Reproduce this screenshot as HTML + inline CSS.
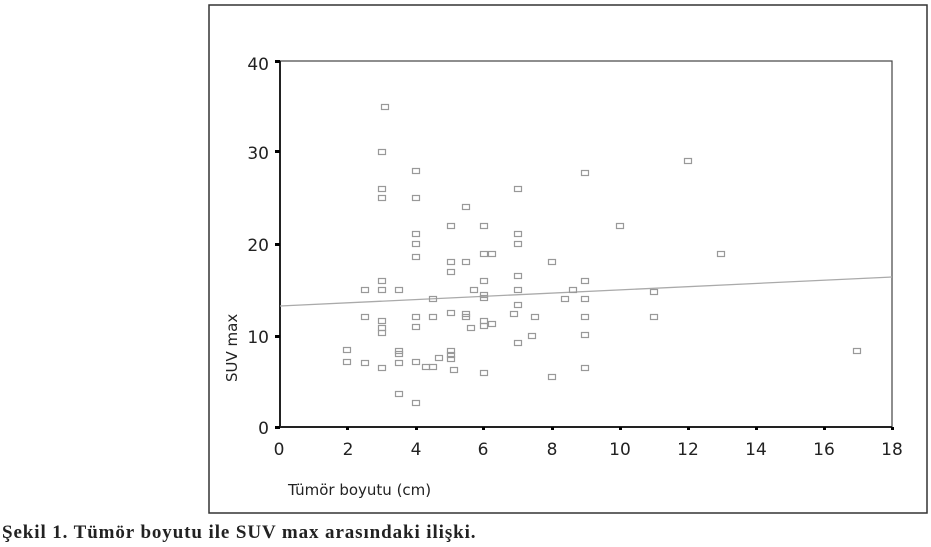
<!DOCTYPE html>
<html><head><style>
body{margin:0;background:#fff;}
svg{display:block;}
</style></head><body>
<svg width="931" height="547" xmlns="http://www.w3.org/2000/svg">
<rect x="209" y="5" width="718" height="508" fill="#fff" stroke="#333" stroke-width="1.5"/>
<rect x="280" y="61" width="612" height="366" fill="none" stroke="#444" stroke-width="1.2"/>
<line x1="280" y1="61" x2="280" y2="427" stroke="#222" stroke-width="2"/>
<line x1="280" y1="427" x2="892" y2="427" stroke="#222" stroke-width="2"/>
<g fill="#000">
<rect x="275" y="60" width="5" height="3"/><rect x="275" y="150" width="5" height="3"/><rect x="275" y="243" width="5" height="3"/><rect x="275" y="335" width="5" height="3"/><rect x="275" y="426" width="5" height="3"/>
<rect x="346" y="427" width="3" height="3"/><rect x="415" y="427" width="3" height="3"/><rect x="482" y="427" width="3" height="3"/><rect x="551" y="427" width="3" height="3"/><rect x="619" y="427" width="3" height="3"/><rect x="687" y="427" width="3" height="3"/><rect x="755" y="427" width="3" height="3"/><rect x="823" y="427" width="3" height="3"/><rect x="891" y="427" width="3" height="3"/>
</g>
<g font-family="'DejaVu Sans','Liberation Sans',sans-serif" font-size="17" fill="#222" text-anchor="end">
<text x="269" y="70">40</text><text x="269" y="159">30</text><text x="269" y="251">20</text><text x="269" y="343">10</text><text x="269" y="434">0</text>
</g>
<g font-family="'DejaVu Sans','Liberation Sans',sans-serif" font-size="17" fill="#222" text-anchor="middle">
<text x="279" y="455">0</text><text x="348" y="455">2</text><text x="416" y="455">4</text><text x="483" y="455">6</text><text x="552" y="455">8</text><text x="620" y="455">10</text><text x="688" y="455">12</text><text x="756" y="455">14</text><text x="824" y="455">16</text><text x="892" y="455">18</text>
</g>
<text x="288" y="495" font-family="'DejaVu Sans','Liberation Sans',sans-serif" font-size="15" fill="#222">Tümör boyutu (cm)</text>
<text transform="translate(237,382) rotate(-90)" font-family="'DejaVu Sans','Liberation Sans',sans-serif" font-size="15" fill="#222">SUV max</text>
<line x1="280" y1="306" x2="892" y2="277" stroke="#aaa" stroke-width="1.3"/>
<g fill="none" stroke="#999" stroke-width="1.2" id="pts"></g>
<text x="2" y="538" font-family="'Liberation Serif',serif" font-weight="bold" font-size="19" letter-spacing="0.9" fill="#222">Şekil 1. Tümör boyutu ile SUV max arasındaki ilişki.</text>
</svg>
<script>
var p=[[385,107],[382,152],[416,171],[382,189],[382,198],[416,198],[466,207],[451,226],[484,226],[416,234],[416,244],[416,257],[451,262],[466,262],[484,254],[492,254],[518,189],[518,234],[518,244],[552,262],[585,173],
[382,281],[451,272],[484,281],[518,276],[585,281],[365,290],[382,290],[399,290],[433,299],[474,290],[484,295],[484,298],[518,290],[518,305],[565,299],[573,290],[585,299],[365,317],[382,321],[382,328],[382,333],[416,317],[416,327],[433,317],[451,313],[466,314],[466,317],[471,328],[484,321],[484,326],[492,324],[514,314],[535,317],[518,343],[532,336],[585,317],[585,335],[347,350],[347,362],[365,363],[382,368],[399,351],[399,354],[399,363],[416,362],[426,367],[433,367],[439,358],[451,351],[451,355],[451,359],[454,370],[484,373],[552,377],[585,368],[399,394],[416,403],
[688,161],[620,226],[721,254],[654,292],[654,317],[857,351]];
var g=document.getElementById('pts'),s='';
p.forEach(function(a){s+='<rect x="'+(a[0]-3.5)+'" y="'+(a[1]-2.5)+'" width="7" height="5"/>';});
g.innerHTML=s;
</script>
</body></html>
